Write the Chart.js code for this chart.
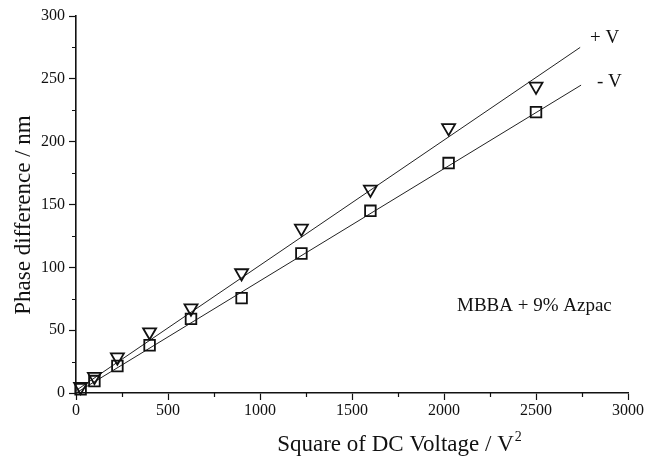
<!DOCTYPE html>
<html>
<head>
<meta charset="utf-8">
<script src="https://cdn.jsdelivr.net/npm/chart.js@4/dist/chart.umd.min.js"></script>
<style>
html, body { margin: 0; padding: 0; background: #fff; }
</style>
</head>
<body>
<canvas id="chart" width="654" height="459"></canvas>
<script>
// Square of DC voltage (V^2) for each measurement
const voltageSq = [25, 100, 225, 400, 625, 900, 1225, 1600, 2025, 2500];
// phase difference (nm), positive and negative polarity
const plusV  = [5, 13, 28.5, 48.5, 67.5, 95.5, 131, 162, 211, 244];
const minusV = [3, 9.5, 21.5, 38, 59, 75.5, 111, 145, 183, 223.5];

// linear fits, start and end
const plusFitX  = [0, 2740];
const plusFitY  = [2, 275];
const minusFitX = [0, 2745];
const minusFitY = [0, 245];

const xTicks = [0, 500, 1000, 1500, 2000, 2500, 3000];
const yTicks = [0, 50, 100, 150, 200, 250, 300];
const xMinor = [250, 750, 1250, 1750, 2250, 2750];
const yMinor = [25, 75, 125, 175, 225, 275];

const FONT = '"Liberation Serif", "Times New Roman", serif';
const INK = '#111';

function pts(xs, ys) {
    return xs.map((x, i) => ({ x: x, y: ys[i] }));
}

// titles, minor ticks and the labels on the plot
const paperText = {
    id: 'paperText',
    afterDraw(chart) {
        const ctx = chart.ctx;
        const xs = chart.scales.x, ys = chart.scales.y;
        ctx.save();
        ctx.strokeStyle = INK;
        ctx.fillStyle = INK;
        ctx.lineWidth = 1.2;
        ctx.beginPath();
        xMinor.forEach(v => {
            const px = Math.round(xs.getPixelForValue(v)) + 0.5;
            ctx.moveTo(px, ys.bottom);
            ctx.lineTo(px, ys.bottom + 4);
        });
        yMinor.forEach(v => {
            const py = Math.round(ys.getPixelForValue(v)) + 0.5;
            ctx.moveTo(xs.left, py);
            ctx.lineTo(xs.left - 4, py);
        });
        ctx.stroke();

        // y title
        ctx.save();
        ctx.translate(24, 215);
        ctx.rotate(-Math.PI / 2);
        ctx.font = '23px ' + FONT;
        ctx.textAlign = 'center';
        ctx.textBaseline = 'middle';
        ctx.fillText('Phase difference / nm', 0, 0);
        ctx.restore();

        // x title with superscript
        const main = 'Square of DC Voltage / V';
        ctx.font = '23px ' + FONT;
        const w1 = ctx.measureText(main).width;
        ctx.font = '14px ' + FONT;
        const w2 = ctx.measureText('2').width;
        const x0 = 399 - (w1 + w2) / 2;
        ctx.textAlign = 'left';
        ctx.textBaseline = 'alphabetic';
        ctx.font = '23px ' + FONT;
        ctx.fillText(main, x0, 451);
        ctx.font = '14px ' + FONT;
        ctx.fillText('2', x0 + w1 + 1, 441);

        // series labels and sample name
        ctx.font = '19px ' + FONT;
        ctx.textBaseline = 'middle';
        ctx.fillText('+ V', 590, 38);
        ctx.fillText('- V', 597, 82);
        ctx.fillText('MBBA + 9% Azpac', 457, 306);
        ctx.restore();
    }
};

new Chart(document.getElementById('chart'), {
    type: 'scatter',
    data: {
        datasets: [
            {
                label: '+ V',
                data: pts(voltageSq, plusV),
                pointStyle: 'triangle',
                rotation: 180,
                pointRadius: 7.5,
                borderWidth: 1.8,
                borderColor: INK,
                backgroundColor: 'rgba(0,0,0,0)',
                clip: false,
                order: 1
            },
            {
                label: '- V',
                data: pts(voltageSq, minusV),
                pointStyle: 'rect',
                pointRadius: 7.5,
                borderWidth: 1.8,
                borderColor: INK,
                backgroundColor: 'rgba(0,0,0,0)',
                clip: false,
                order: 2
            },
            {
                label: 'fit +',
                data: pts(plusFitX, plusFitY),
                showLine: true,
                pointRadius: 0,
                borderWidth: 1,
                borderColor: '#222',
                order: 3
            },
            {
                label: 'fit -',
                data: pts(minusFitX, minusFitY),
                showLine: true,
                pointRadius: 0,
                borderWidth: 1,
                borderColor: '#222',
                order: 4
            }
        ]
    },
    options: {
        responsive: false,
        animation: false,
        layout: { padding: { left: 0, right: 26, top: 16, bottom: 0 } },
        plugins: {
            legend: { display: false },
            tooltip: { enabled: false }
        },
        scales: {
            x: {
                type: 'linear',
                min: 0,
                max: 3000,
                afterBuildTicks: s => { s.ticks = xTicks.map(v => ({ value: v })); },
                afterFit: s => { s.height = 66; },
                ticks: {
                    color: INK,
                    font: { family: FONT, size: 16 },
                    padding: 1,
                    maxRotation: 0,
                    callback: v => String(v)
                },
                grid: { drawOnChartArea: false, tickLength: 7, tickColor: INK, tickWidth: 1.2 },
                border: { color: INK, width: 1.6 }
            },
            y: {
                type: 'linear',
                min: 0,
                max: 300,
                afterBuildTicks: s => { s.ticks = yTicks.map(v => ({ value: v })); },
                afterFit: s => { s.width = 76; },
                ticks: {
                    color: INK,
                    font: { family: FONT, size: 16 },
                    padding: 4,
                    callback: v => String(v)
                },
                grid: { drawOnChartArea: false, tickLength: 7, tickColor: INK, tickWidth: 1.2 },
                border: { color: INK, width: 1.6 }
            }
        }
    },
    plugins: [paperText]
});
</script>
</body>
</html>
